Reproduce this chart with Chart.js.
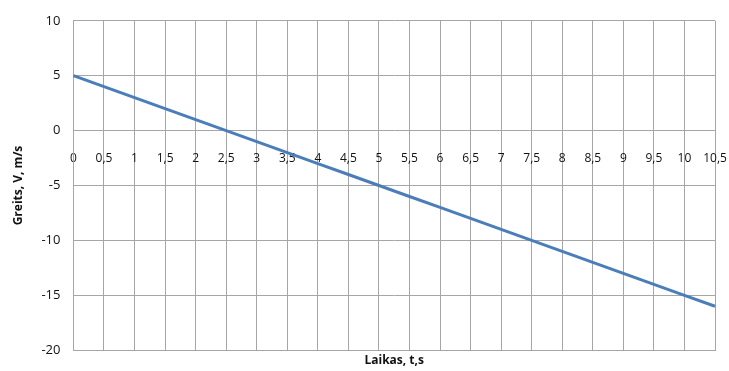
<!DOCTYPE html>
<html>
<head>
<meta charset="utf-8">
<script src="https://cdn.jsdelivr.net/npm/chart.js@4/dist/chart.umd.min.js"></script>
<style>
  html, body { margin: 0; padding: 0; background: #fff; }
  #wrap { width: 729px; height: 371px; }
</style>
</head>
<body>
<div id="wrap"><canvas id="chart"></canvas></div>
<script>
// laikas (s) ir greitis (m/s)
const timeLabels = ['0', '0,5', '1', '1,5', '2', '2,5', '3', '3,5', '4', '4,5', '5',
    '5,5', '6', '6,5', '7', '7,5', '8', '8,5', '9', '9,5', '10', '10,5'];
const speedValues = [5, 4, 3, 2, 1, 0, -1, -2, -3, -4, -5,
    -6, -7, -8, -9, -10, -11, -12, -13, -14, -15, -16];
const yTicks = [10, 5, 0, -5, -10, -15, -20];

const xTitle = 'Laikas, t,s';
const yTitle = 'Greits, V, m/s';

const gridColor = '#a6a6a6';
const labelFont = { family: 'Open Sans', size: 12 };

// nereikia papildomos vietos paskutinei etiketei
const noSidePad = (axis) => { axis.paddingRight = 0; axis.paddingLeft = 0; };

new Chart(document.getElementById('chart'), {
    type: 'line',
    data: {
        labels: timeLabels,
        datasets: [{
            data: speedValues,
            borderColor: '#4a7ebb',
            borderWidth: 3,
            pointRadius: 0,
            tension: 0,
            fill: false
        }]
    },
    options: {
        responsive: true,
        maintainAspectRatio: false,
        animation: false,
        layout: { padding: { top: 14, right: 14, bottom: 3, left: 11 } },
        plugins: {
            legend: { display: false },
            tooltip: { enabled: false }
        },
        scales: {
            x: {
                type: 'category',
                offset: false,
                afterFit: noSidePad,
                grid: { color: gridColor, lineWidth: 1, drawTicks: false },
                border: { color: gridColor },
                ticks: { display: false },
                title: {
                    display: true,
                    text: xTitle,
                    color: '#111',
                    font: { family: 'Open Sans', size: 12, weight: 'bold' },
                    padding: { top: 3, bottom: 0 }
                }
            },
            x2: {
                type: 'category',
                offset: false,
                position: { y: 0 },
                afterFit: noSidePad,
                grid: { display: false, drawTicks: false },
                border: { display: false },
                ticks: {
                    autoSkip: false,
                    maxRotation: 0,
                    padding: 21,
                    color: '#111',
                    font: labelFont
                }
            },
            y: {
                min: -20,
                max: 10,
                afterBuildTicks: (axis) => { axis.ticks = yTicks.map(v => ({ value: v })); },
                grid: { color: gridColor, lineWidth: 1, drawTicks: false },
                border: { color: gridColor },
                ticks: {
                    padding: 13,
                    color: '#111',
                    font: { family: 'Open Sans', size: 13 }
                },
                title: {
                    display: true,
                    text: yTitle,
                    color: '#111',
                    font: { family: 'Open Sans', size: 12, weight: 'bold' },
                    padding: { top: 0, bottom: 3 }
                }
            }
        }
    }
});
</script>
</body>
</html>
